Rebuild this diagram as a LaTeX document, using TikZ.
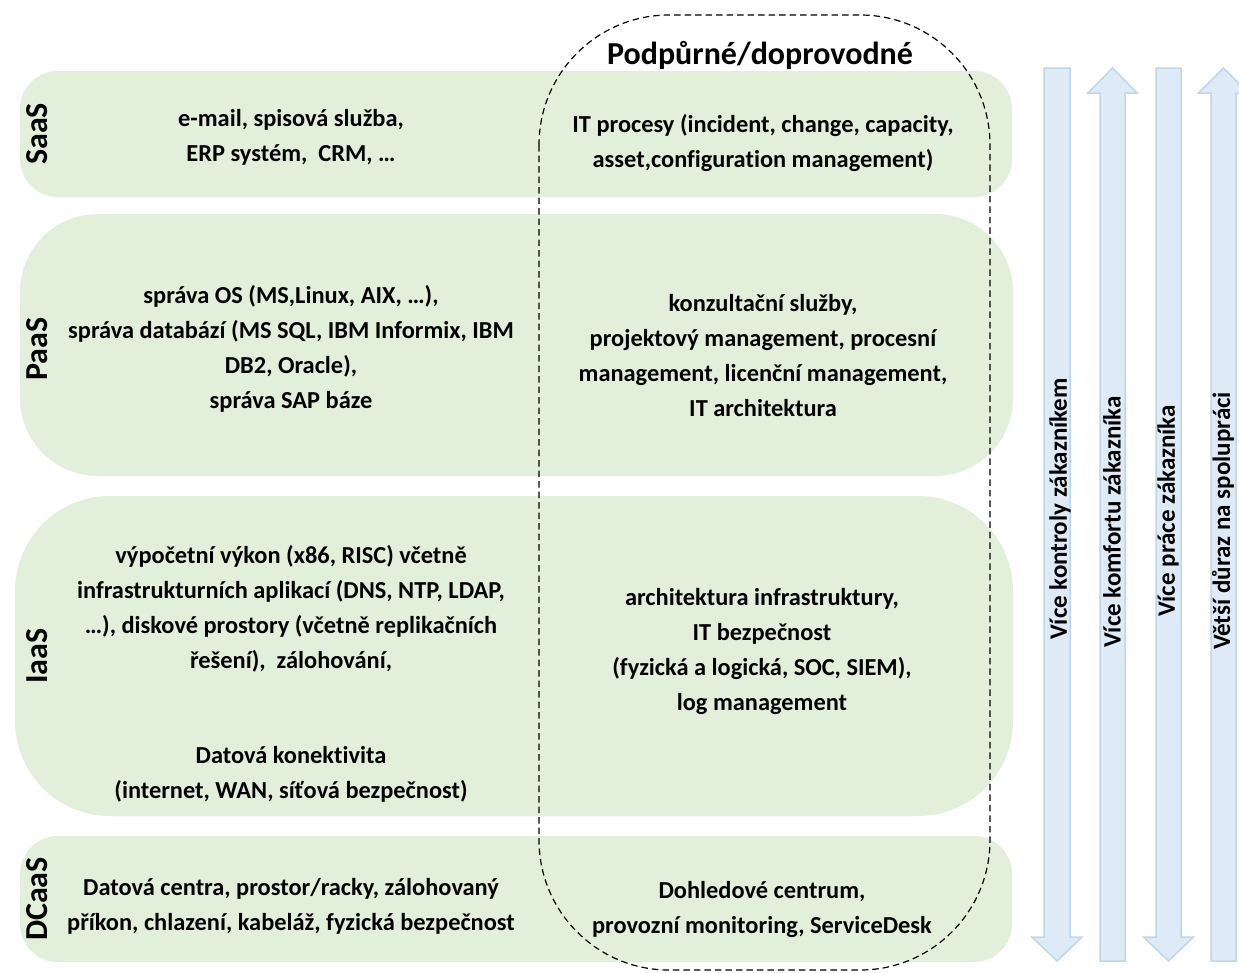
\documentclass[tikz,border=0pt]{standalone}
\usepackage{fontspec}
\setmainfont{Carlito}[Ligatures=NoCommon]
\definecolor{bandgreen}{HTML}{E2EFDA}
\definecolor{arrfill}{HTML}{DEEBF7}
\definecolor{arrdraw}{HTML}{BDD7EE}
\begin{document}
\begin{tikzpicture}[x=1pt,y=-1pt,
  bandbox/.style={fill=bandgreen, draw=none},
  body/.style={font=\bfseries\fontsize{24.4}{35}\selectfont, align=center, inner sep=0pt},
  lab/.style={font=\bfseries\fontsize{32}{38}\selectfont, rotate=90, inner sep=0pt},
  arrtext/.style={font=\bfseries\fontsize{25}{30}\selectfont, rotate=90, inner sep=0pt},
  bigarrow/.style={fill=arrfill, draw=arrdraw, line width=1.5pt, line join=miter},
  support/.style={draw=black, dash pattern=on 6.5pt off 4pt, line width=1.2pt}]
\useasboundingbox (0,0) rectangle (1239,972);
\clip (0,0) rectangle (1239,972);
\fill[white] (0,0) rectangle (1239,972);
% layers
\path[bandbox, rounded corners=38pt] (20,71) rectangle (1012,197);
\path[bandbox, rounded corners=78pt] (20,214) rectangle (1013,476);
\path[bandbox, rounded corners=95pt] (15,496) rectangle (1013,816);
\path[bandbox, rounded corners=38pt] (20,836) rectangle (1012,962);
% supporting services region
\draw[support, rounded corners=130pt] (539,15) rectangle (990,970);
\node[font=\bfseries\fontsize{32}{38}\selectfont, anchor=base, inner sep=0pt] (title) at (760,64) {Podpůrné/doprovodné};
% layer labels
\node[lab] (saas) at (37,134) {SaaS};
\node[lab] (paas) at (37,349) {PaaS};
\node[lab] (iaas) at (37,656) {IaaS};
\node[lab] (dcaas) at (37,899) {DCaaS};
% texts
\node[body] (saasl) at (291,137) {e-mail, spisová služba,\\ERP systém,\ \ CRM, …};
\node[body] (saasr) at (763,143) {IT procesy (incident, change, capacity,\\asset,configuration management)};
\node[body] (paasl) at (291,349) {správa OS (MS,Linux, AIX, …),\\správa databází (MS SQL, IBM Informix, IBM\\DB2, Oracle),\\správa SAP báze};
\node[body] (paasr) at (763,356) {konzultační služby,\\projektový management, procesní\\management, licenční management,\\IT architektura};
\node[body] (iaasl) at (291,609) {výpočetní výkon (x86, RISC) včetně\\infrastrukturních aplikací (DNS, NTP, LDAP,\\…), diskové prostory (včetně replikačních\\řešení),\ \ zálohování,};
\node[body] (iaasl2) at (291,774) {Datová konektivita\\(internet, WAN, síťová bezpečnost)};
\node[body] (iaasr) at (762,651) {architektura infrastruktury,\\IT bezpečnost\\(fyzická a logická, SOC, SIEM),\\log management};
\node[body] (dcaasl) at (291,906) {Datová centra, prostor/racky, zálohovaný\\příkon, chlazení, kabeláž, fyzická bezpečnost};
\node[body] (dcaasr) at (762,909) {Dohledové centrum,\\provozní monitoring, ServiceDesk};
% big arrows
\path[bigarrow] (1044,68) -- (1070,68) -- (1070,937) -- (1082,937) -- (1057,961) -- (1032,937) -- (1044,937) -- cycle;
\path[bigarrow] (1112.5,68) -- (1137,93) -- (1125,93) -- (1125,961) -- (1100,961) -- (1100,93) -- (1088,93) -- cycle;
\path[bigarrow] (1156,68) -- (1181,68) -- (1181,937) -- (1193.5,937) -- (1168.5,961) -- (1143.5,937) -- (1156,937) -- cycle;
\path[bigarrow] (1223.5,68) -- (1248.5,93) -- (1236,93) -- (1236,961) -- (1211,961) -- (1211,93) -- (1198.5,93) -- cycle;
\node[arrtext] (a1) at (1060,509) {Více kontroly zákazníkem};
\node[arrtext] (a2) at (1112,522) {Více komfortu zákazníka};
\node[arrtext] (a3) at (1168,511) {Více práce zákazníka};
\node[arrtext] (a4) at (1223,521) {Větší důraz na spolupráci};
\end{tikzpicture}
\end{document}
